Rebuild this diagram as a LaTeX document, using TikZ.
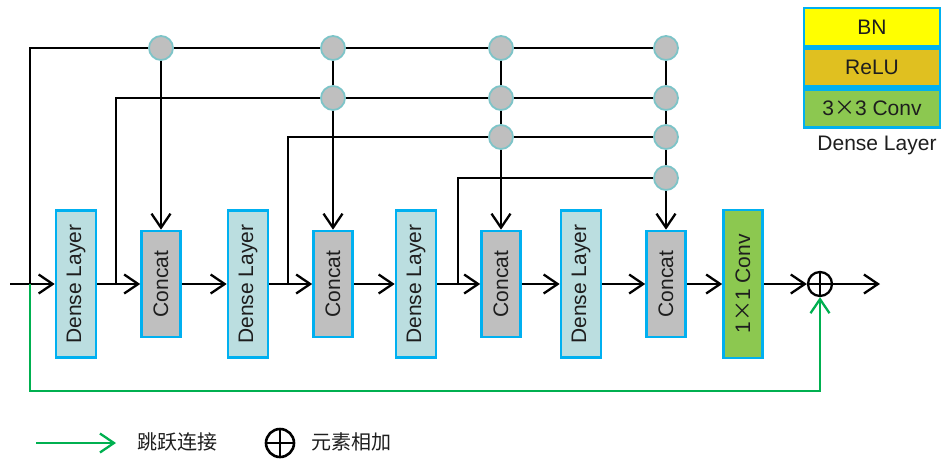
\documentclass[tikz,border=0pt]{standalone}
\usepackage{fontspec}
\usepackage{graphicx}
\setmainfont{Liberation Sans}
\newfontfamily\cjk{Noto Sans CJK SC}
\usetikzlibrary{arrows.meta}
\definecolor{bordercyan}{RGB}{0,176,240}
\definecolor{densefill}{RGB}{187,222,224}
\definecolor{concatfill}{RGB}{191,191,191}
\definecolor{convgreen}{RGB}{140,200,80}
\definecolor{bnyellow}{RGB}{255,255,0}
\definecolor{relugold}{RGB}{224,192,32}
\definecolor{dotedge}{RGB}{125,196,200}
\definecolor{skipgreen}{RGB}{0,176,80}
\definecolor{txt}{RGB}{30,30,30}
\newcommand{\cx}{{\cjk ×}}
\begin{document}
\begin{tikzpicture}[x=1pt,y=-1pt,
  every node/.style={font=\fontsize{21}{23}\selectfont, text=txt, inner sep=0pt},
  blk/.style={draw=bordercyan, line width=2.6pt, minimum width=40pt},
  densebox/.style={blk, fill=densefill, minimum height=147pt},
  concatbox/.style={blk, fill=concatfill, minimum width=39pt, minimum height=106pt},
  convbox/.style={blk, fill=convgreen, minimum width=39pt, minimum height=148pt},
  dot/.style={circle, fill=concatfill, draw=dotedge, line width=1.8pt, minimum size=24pt},
  oplus/.style={circle, draw=black, line width=2.3pt, minimum size=24pt,
     path picture={\draw[line width=2.3pt] (path picture bounding box.north) -- (path picture bounding box.south)
       (path picture bounding box.west) -- (path picture bounding box.east);}},
  ln/.style={line width=2.3pt, draw=black},
  arr/.style={ln, -{Straight Barb[length=14pt,width=19pt,line width=2.3pt]}},
  garr/.style={line width=2.3pt, draw=skipgreen, -{Straight Barb[length=14pt,width=19pt,line width=2.3pt]}},
  legrow/.style={draw=bordercyan, line width=2.6pt, minimum width=136pt, minimum height=38pt}
]
\useasboundingbox (0,0) rectangle (942,459);

% main boxes
\node[densebox] (d1) at (76,284) {\rotatebox{90}{Dense Layer}};
\node[concatbox] (c1) at (161,284) {\rotatebox{90}{Concat}};
\node[densebox] (d2) at (248,284) {\rotatebox{90}{Dense Layer}};
\node[concatbox] (c2) at (333,284) {\rotatebox{90}{Concat}};
\node[densebox] (d3) at (416,284) {\rotatebox{90}{Dense Layer}};
\node[concatbox] (c3) at (501,284) {\rotatebox{90}{Concat}};
\node[densebox] (d4) at (581,284) {\rotatebox{90}{Dense Layer}};
\node[concatbox] (c4) at (666,284) {\rotatebox{90}{Concat}};
\node[convbox] (cv) at (743,284) {\rotatebox{90}{1\cx 1 Conv}};
\node[oplus] (add) at (820,284) {};

% coordinates
\coordinate (in) at (10,284);
\coordinate (j0) at (30,284);
\coordinate (j1) at (116,284);
\coordinate (j2) at (288,284);
\coordinate (j3) at (458,284);
\coordinate (out) at (880,284);
\coordinate (gb) at (30,391);
\coordinate (q11) at (161,48);
\coordinate (q21) at (333,48);
\coordinate (q22) at (333,98);
\coordinate (q31) at (501,48);
\coordinate (q32) at (501,98);
\coordinate (q33) at (501,137);
\coordinate (q41) at (666,48);
\coordinate (q42) at (666,98);
\coordinate (q43) at (666,137);
\coordinate (q44) at (666,178);

% main chain
\draw[arr] (in) -- (d1.west);
\draw[arr] (d1.east) -- (c1.west);
\draw[arr] (c1.east) -- (d2.west);
\draw[arr] (d2.east) -- (c2.west);
\draw[arr] (c2.east) -- (d3.west);
\draw[arr] (d3.east) -- (c3.west);
\draw[arr] (c3.east) -- (d4.west);
\draw[arr] (d4.east) -- (c4.west);
\draw[arr] (c4.east) -- (cv.west);
\draw[arr] (cv.east) -- (add.west);
\draw[arr] (add.east) -- (out);

% feeder lines
\draw[ln] (j0) |- (q41);
\draw[ln] (j1) |- (q42);
\draw[ln] (j2) |- (q43);
\draw[ln] (j3) |- (q44);

% column lines into concats
\draw[arr] (q11) -- (c1.north);
\draw[arr] (q21) -- (c2.north);
\draw[arr] (q31) -- (c3.north);
\draw[arr] (q41) -- (c4.north);

% skip connection
\draw[garr] (j0) -- (gb) -| (add.south);

% junction dots
\foreach \p in {q11,q21,q22,q31,q32,q33,q41,q42,q43,q44}
  \node[dot] at (\p) {};

% legend: dense layer
\node[legrow, fill=bnyellow] (bn) at (872,27) {BN};
\node[legrow, fill=relugold, anchor=north] (relu) at (bn.south) {ReLU};
\node[legrow, fill=convgreen, anchor=north] (c33) at (relu.south) {3\cx 3 Conv};
\node (dl) at (877,145) {Dense Layer};

% bottom legend
\coordinate (ga) at (36,443);
\coordinate (gz) at (116,443);
\draw[garr] (ga) -- (gz);
\node[anchor=west, font=\cjk\fontsize{20}{22}\selectfont] (t1) at (137,442) {跳跃连接};
\node[oplus, minimum size=28pt, line width=2.6pt] (lp) at (280,443) {};
\node[anchor=west, font=\cjk\fontsize{20}{22}\selectfont] (t2) at (311,442) {元素相加};
\end{tikzpicture}
\end{document}
